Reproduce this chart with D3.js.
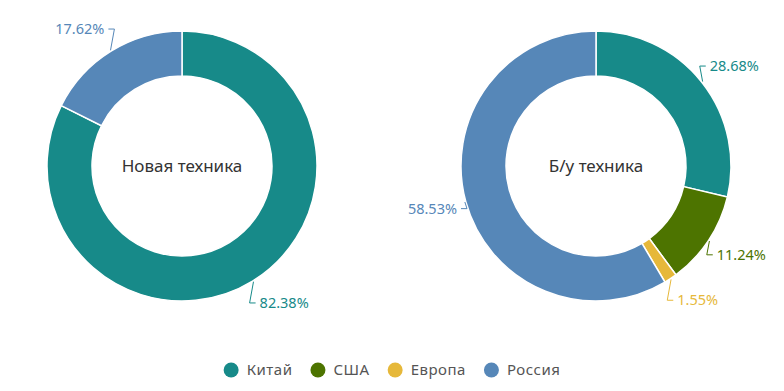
<!DOCTYPE html>
<html><head><meta charset="utf-8">
<script src="https://cdn.jsdelivr.net/npm/d3@7"></script>
<style>html,body{margin:0;padding:0;background:#fff;}svg{display:block;font-family:"Noto Sans","Open Sans",sans-serif;}</style>
</head><body>
<svg id="c" width="784" height="391"></svg>
<script>
const categories = ["Китай", "США", "Европа", "Россия"];
const colors = ["#178a89", "#4d7400", "#e6b83a", "#5687b8"];
const titles = ["Новая техника", "Б/у техника"];
const newValues = [82.38, 0, 0, 17.62];
const usedValues = [28.68, 11.24, 1.55, 58.53];

const svg = d3.select("#c");
const W = 784;
const outerR = 135, innerR = 90;
const labelRx = 140, labelRy = 161;
const centers = [[182, 166], [596, 166]];
const color = d3.scaleOrdinal().domain(categories).range(colors);

function drawDonut(values, title, cx, cy) {
  const data = categories.map((c, i) => ({cat: c, value: values[i]})).filter(d => d.value > 0);
  const pie = d3.pie().sort(null).value(d => d.value);
  const arcs = pie(data);
  const arc = d3.arc().innerRadius(innerR).outerRadius(outerR);
  const g = svg.append("g").attr("transform", `translate(${cx},${cy})`);
  g.selectAll("path.s").data(arcs).join("path")
    .attr("d", arc).attr("fill", d => color(d.data.cat))
    .attr("stroke", "#fff").attr("stroke-width", 1.5);
  arcs.forEach(a => {
    const m = (a.startAngle + a.endAngle) / 2;
    const side = Math.sin(m) >= 0 ? 1 : -1;
    const p1 = [Math.sin(m) * (outerR + 1), -Math.cos(m) * (outerR + 1)];
    const p3 = [Math.sin(m) * labelRx, -Math.cos(m) * labelRy];
    const p2 = [p3[0] - side * 6, p3[1]];
    g.append("polyline")
      .attr("points", [p1, p2, p3].map(q => q.join(",")).join(" "))
      .attr("fill", "none").attr("stroke", color(a.data.cat)).attr("stroke-width", 1);
    g.append("text")
      .attr("x", p3[0] + side * 4).attr("y", p3[1])
      .attr("dy", "0.35em")
      .attr("text-anchor", side > 0 ? "start" : "end")
      .attr("font-size", 14.5).attr("fill", color(a.data.cat))
      .text(a.data.value.toFixed(2) + "%");
  });
  g.append("text").attr("text-anchor", "middle").attr("dy", "0.35em")
    .attr("font-size", 17).attr("fill", "#333").text(title);
}
drawDonut(newValues, titles[0], centers[0][0], centers[0][1]);
drawDonut(usedValues, titles[1], centers[1][0], centers[1][1]);

// legend
const lg = svg.append("g");
let x = 0;
const gap = 18;
categories.forEach((c, i) => {
  const it = lg.append("g").attr("transform", `translate(${x},0)`);
  it.append("circle").attr("cx", 7.5).attr("cy", 0).attr("r", 7.5).attr("fill", color(c));
  const t = it.append("text").attr("x", 23).attr("dy", "0.35em").attr("font-size", 15)
    .attr("letter-spacing", "0.5px").attr("fill", "#555").text(c);
  const w = t.node().getComputedTextLength();
  x += 23 + w + gap;
});
const total = x - gap;
lg.attr("transform", `translate(${(W - total) / 2},370)`);
</script>
</body></html>
